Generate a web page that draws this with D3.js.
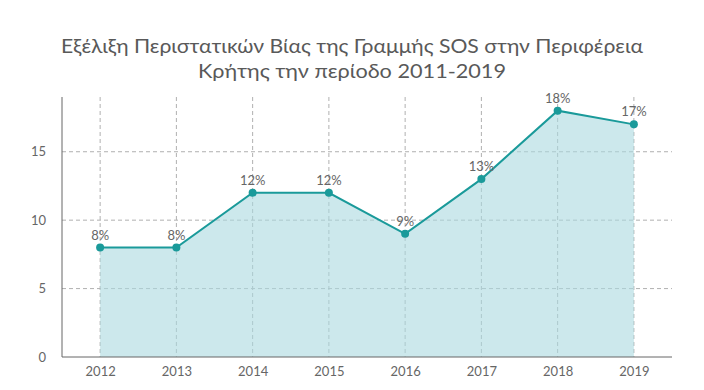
<!DOCTYPE html>
<html><head><meta charset="utf-8">
<script src="https://cdn.jsdelivr.net/npm/d3@7"></script>
<style>body{margin:0;background:#fff}svg{display:block}</style>
</head><body>
<svg id="c" width="704" height="390"></svg>
<script>
const years = ["2012","2013","2014","2015","2016","2017","2018","2019"];
const values = [8, 8, 12, 12, 9, 13, 18, 17];
const yTicks = [0, 5, 10, 15];
const titleLines = ["Εξέλιξη Περιστατικών Βίας της Γραμμής SOS στην Περιφέρεια", "Κρήτης την περίοδο 2011-2019"];
const titleWidths = [582, 308];

const svg = d3.select("#c");
const m = {l: 62, r: 32, t: 97, b: 33};
const W = 704, H = 390;
const x = d3.scalePoint().domain(years).range([m.l, W - m.r]).padding(0.5);
const y = d3.scaleLinear().domain([0, 19]).range([H - m.b, m.t]);
const font = "Lato, 'Open Sans', sans-serif";

svg.selectAll("text.title").data(titleLines).join("text")
  .attr("x", 352).attr("y", (d, i) => 53 + i * 25)
  .attr("text-anchor", "middle").attr("font-family", font).attr("font-size", 20)
  .attr("textLength", (d, i) => titleWidths[i]).attr("lengthAdjust", "spacingAndGlyphs")
  .attr("fill", "#595959").text(d => d);

// grid
svg.append("g").selectAll("line").data(yTicks.filter(d => d > 0)).join("line")
  .attr("x1", m.l).attr("x2", W - m.r).attr("y1", d => y(d)).attr("y2", d => y(d))
  .attr("stroke", "#b0b0b0").attr("stroke-dasharray", "4,3");
svg.append("g").selectAll("line").data(years).join("line")
  .attr("x1", d => x(d)).attr("x2", d => x(d)).attr("y1", m.t).attr("y2", H - m.b)
  .attr("stroke", "#b0b0b0").attr("stroke-dasharray", "4,3");

const pts = years.map((d, i) => ({k: d, v: values[i]}));
svg.append("path").datum(pts)
  .attr("d", d3.area().x(d => x(d.k)).y0(y(0)).y1(d => y(d.v)))
  .attr("fill", "#aad8e0").attr("fill-opacity", 0.6);
svg.append("path").datum(pts)
  .attr("d", d3.line().x(d => x(d.k)).y(d => y(d.v)))
  .attr("fill", "none").attr("stroke", "#1a9a9a").attr("stroke-width", 2);
svg.append("g").selectAll("circle").data(pts).join("circle")
  .attr("cx", d => x(d.k)).attr("cy", d => y(d.v)).attr("r", 4).attr("fill", "#1a9a9a");
svg.append("g").selectAll("text").data(pts).join("text")
  .attr("x", d => x(d.k)).attr("y", d => y(d.v) - 8)
  .attr("text-anchor", "middle").attr("font-family", font).attr("font-size", 13)
  .attr("fill", "#666").text(d => d.v + "%");

// axes
const xa = svg.append("g").attr("transform", `translate(0,${H - m.b})`)
  .call(d3.axisBottom(x).tickSize(0).tickPadding(10));
xa.select(".domain").attr("stroke", "#666").attr("d", `M${m.l},0H${W - m.r}`);
const ya = svg.append("g").attr("transform", `translate(${m.l},0)`)
  .call(d3.axisLeft(y).tickValues(yTicks).tickSize(0).tickPadding(16));
ya.select(".domain").attr("stroke", "#666").attr("d", `M0,${m.t}V${H - m.b}`);
svg.selectAll(".tick text").attr("font-family", font).attr("font-size", 13).attr("fill", "#666");
</script>
</body></html>
